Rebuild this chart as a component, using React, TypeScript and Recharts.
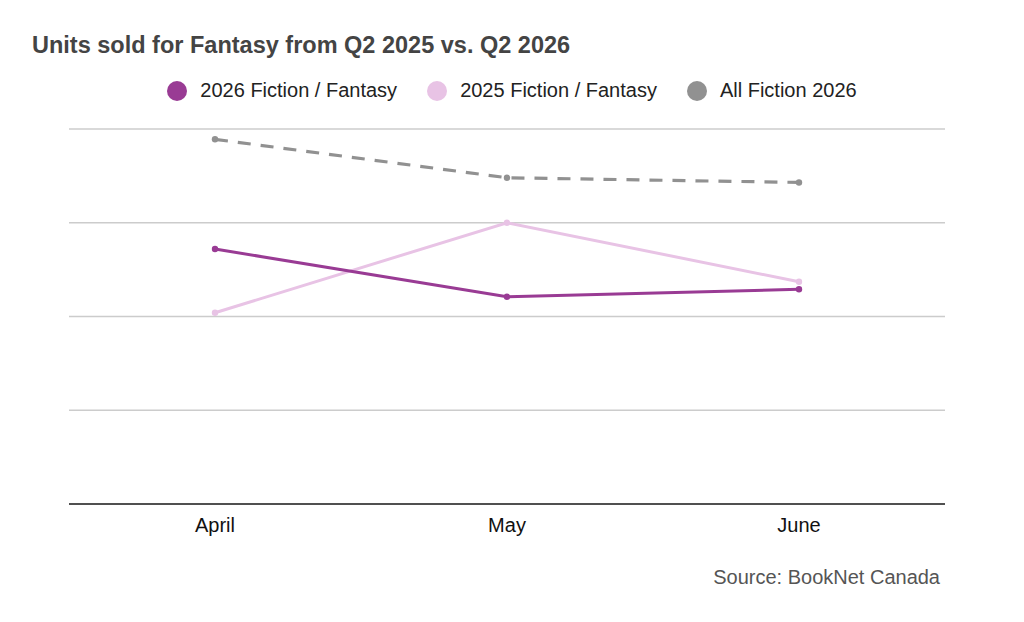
import React from "react";
import {
  LineChart,
  Line,
  XAxis,
  YAxis,
  CartesianGrid,
} from "recharts";

const months = ["April", "May", "June"];
const fantasy2026 = [2.72, 2.21, 2.29];
const fantasy2025 = [2.04, 3.0, 2.37];
const allFiction2026 = [3.89, 3.48, 3.43];
const yTicks = [0, 1, 2, 3, 4];

const series = [
  { key: "f2026", name: "2026 Fiction / Fantasy", color: "#993b94" },
  { key: "f2025", name: "2025 Fiction / Fantasy", color: "#e8c3e5" },
  { key: "all2026", name: "All Fiction 2026", color: "#919191" },
];

const data = months.map((m, i) => ({
  month: m,
  f2026: fantasy2026[i],
  f2025: fantasy2025[i],
  all2026: allFiction2026[i],
}));

const font = '"Liberation Sans", Arial, sans-serif';

export default function App() {
  return (
    <div
      style={{
        position: "absolute",
        left: 0,
        top: 0,
        width: 1024,
        height: 622,
        background: "#fff",
        fontFamily: font,
      }}
    >
      <div
        style={{
          position: "absolute",
          left: 32,
          top: 32,
          fontSize: 23.5,
          fontWeight: "bold",
          color: "#444",
        }}
      >
        Units sold for Fantasy from Q2 2025 vs. Q2 2026
      </div>
      <div
        style={{
          position: "absolute",
          left: 0,
          top: 79,
          width: 1024,
          display: "flex",
          justifyContent: "center",
          gap: 30,
          fontSize: 20,
          color: "#222",
        }}
      >
        {series.map((s) => (
          <div key={s.key} style={{ display: "flex", alignItems: "center" }}>
            <span
              style={{
                display: "inline-block",
                width: 20,
                height: 20,
                borderRadius: "50%",
                background: s.color,
                marginRight: 13,
              }}
            />
            {s.name}
          </div>
        ))}
      </div>
      <div style={{ position: "absolute", left: 0, top: 0 }}>
        <LineChart
          width={1024}
          height={622}
          data={data}
          margin={{ top: 129, right: 79, bottom: 88, left: 69 }}
        >
          <CartesianGrid vertical={false} stroke="#cccccc" strokeWidth={1.3} />
          <XAxis
            dataKey="month"
            axisLine={{ stroke: "#222", strokeWidth: 1.5 }}
            tickLine={false}
            tickMargin={8}
            height={30}
            padding={{ left: 146, right: 146 }}
            tick={{ fill: "#111", fontSize: 20, fontFamily: font }}
          />
          <YAxis hide domain={[0, 4]} ticks={yTicks} />
          <Line
            dataKey="all2026"
            stroke="#919191"
            strokeWidth={3.2}
            strokeDasharray="13 10"
            dot={{ r: 3.2, fill: "#919191", stroke: "none" }}
            isAnimationActive={false}
          />
          <Line
            dataKey="f2025"
            stroke="#e8c3e5"
            strokeWidth={3}
            dot={{ r: 3.2, fill: "#e8c3e5", stroke: "none" }}
            isAnimationActive={false}
          />
          <Line
            dataKey="f2026"
            stroke="#993b94"
            strokeWidth={3}
            dot={{ r: 3.2, fill: "#993b94", stroke: "none" }}
            isAnimationActive={false}
          />
        </LineChart>
      </div>
      <div
        style={{
          position: "absolute",
          right: 84,
          top: 566,
          fontSize: 20,
          color: "#555",
        }}
      >
        Source: BookNet Canada
      </div>
    </div>
  );
}
